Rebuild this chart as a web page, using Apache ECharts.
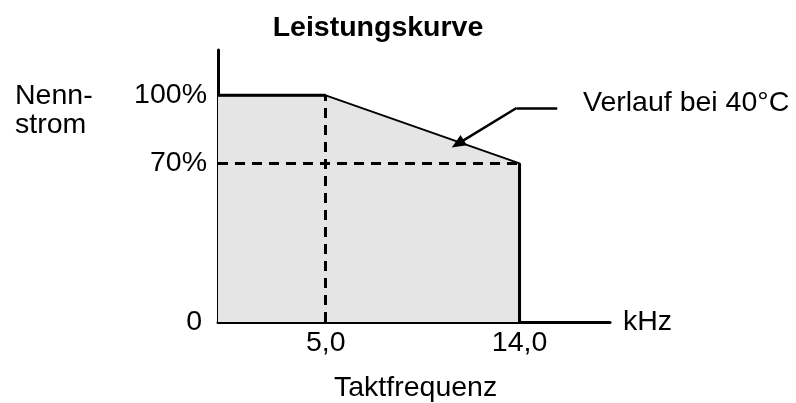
<!DOCTYPE html>
<html>
<head>
<meta charset="utf-8">
<script src="https://cdn.jsdelivr.net/npm/echarts@6/dist/echarts.min.js"></script>
<style>
  html, body { margin: 0; padding: 0; background: #fff; }
  #chart { width: 796px; height: 403px; }
</style>
</head>
<body>
<div id="chart"></div>
<script>
// Leistungskurve: Nennstrom (%) über Taktfrequenz (kHz)
var freq = [0, 5.0, 14.0, 14.0]
var current = [100, 100, 70, 0]
var xTicks = [5.0, 14.0]
var yTicks = [0, 70, 100]

var FONT = 'Liberation Sans, Arial, sans-serif'
var FS = 28.5

var curve = freq.map(function (f, i) { return [f, current[i]] })

function label(text, x, y) {
  return {
    type: 'text', x: x, y: y,
    style: { text: text, font: FS + 'px ' + FONT, fill: '#000', verticalAlign: 'middle', lineHeight: 29 }
  }
}

var chart = echarts.init(document.getElementById('chart'))
chart.setOption({
  animation: false,
  title: {
    text: 'Leistungskurve',
    left: 373,
    top: 9,
    textAlign: 'center',
    textStyle: { fontFamily: FONT, fontSize: FS, fontWeight: 'bold', color: '#000' }
  },
  grid: { left: 218, right: 186, top: 50, bottom: 81 },
  xAxis: {
    type: 'value',
    min: 0,
    max: 18.2,
    name: 'kHz',
    nameLocation: 'end',
    nameGap: 13,
    nameTextStyle: { fontFamily: FONT, fontSize: FS, color: '#000' },
    axisLine: { lineStyle: { color: '#000', width: 3 } },
    axisTick: { show: false },
    splitLine: { show: false },
    axisLabel: {
      customValues: xTicks,
      margin: 7,
      fontFamily: FONT,
      fontSize: FS,
      color: '#000',
      formatter: function (v) { return v.toFixed(1).replace('.', ',') }
    }
  },
  yAxis: {
    type: 'value',
    min: 0,
    max: 120,
    axisLine: { show: true, lineStyle: { color: '#000', width: 3 } },
    axisTick: { show: false },
    splitLine: { show: false },
    axisLabel: {
      customValues: yTicks,
      margin: 11,
      fontFamily: FONT,
      fontSize: FS,
      color: '#000',
      formatter: function (v) { return v === 0 ? '{z|0}' : v + '%' },
      rich: { z: { fontFamily: FONT, fontSize: FS, color: '#000', padding: [0, 5, 0, 0] } }
    }
  },
  graphic: [
    label('Nenn-\nstrom', 15, 111),
    label('Verlauf bei 40°C', 583, 103),
    label('Arbeitsbereich', 271, 218),
    label('Taktfrequenz', 334, 388)
  ],
  series: [
    {
      name: 'Verlauf',
      type: 'line',
      data: curve,
      symbol: 'none',
      z: 2,
      lineStyle: { color: '#000', width: 2 },
      areaStyle: { color: '#e5e5e5', opacity: 1 },
      markLine: {
        silent: true,
        symbol: 'none',
        label: { show: false },
        lineStyle: { color: '#000', width: 3, type: [10, 7] },
        data: [
          [{ coord: [5, 0] }, { coord: [5, 100] }],
          [{ coord: [0, 70] }, { coord: [14, 70] }]
        ]
      }
    },
    {
      name: 'oben',
      type: 'line',
      data: curve.slice(0, 2),
      symbol: 'none',
      z: 3,
      lineStyle: { color: '#000', width: 3 }
    },
    {
      name: 'rechts',
      type: 'line',
      data: curve.slice(2),
      symbol: 'none',
      z: 3,
      lineStyle: { color: '#000', width: 3 }
    },
    {
      name: 'Hinweis',
      type: 'line',
      data: [],
      markLine: {
        silent: true,
        label: { show: false },
        lineStyle: { color: '#000', width: 2.5, type: 'solid' },
        data: [
          [{ coord: [15.75, 94.4], symbol: 'none' }, { coord: [13.86, 94.4], symbol: 'none' }],
          [{ coord: [13.86, 94.4], symbol: 'none' }, { coord: [11.13, 78.6], symbol: 'triangle', symbolSize: [12, 14] }]
        ]
      }
    }
  ]
})
</script>
</body>
</html>
